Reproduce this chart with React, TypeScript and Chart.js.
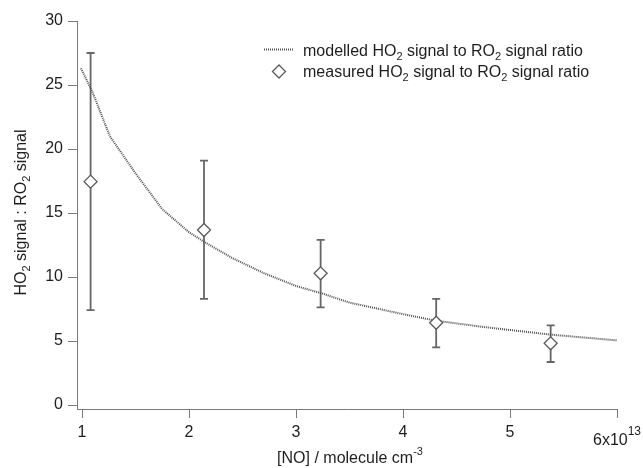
import React, { useEffect, useRef } from 'react';
import { Chart, registerables } from 'chart.js';

Chart.register(...registerables);

// ---- data ----
const NO_MEASURED = [1.08, 2.14, 3.23, 4.31, 5.38];
const RATIO_MEASURED = [17.45, 13.67, 10.29, 6.43, 4.82];
const ERR_HIGH = [27.5, 19.1, 12.9, 8.3, 6.23];
const ERR_LOW = [7.42, 8.3, 7.63, 4.5, 3.36];

const NO_MODEL = [0.99, 1.1, 1.26, 1.5, 1.75, 2.0, 2.15, 2.4, 2.7, 3.0, 3.25, 3.5, 4.0, 4.3, 4.75, 5.38, 6.0];
const RATIO_MODEL = [26.3, 24.4, 21.0, 18.1, 15.3, 13.5, 12.7, 11.5, 10.3, 9.3, 8.7, 8.0, 7.1, 6.6, 6.1, 5.5, 5.05];

const X_TICKS = [1, 2, 3, 4, 5, 6];
const Y_TICKS = [0, 5, 10, 15, 20, 25, 30];
const X_EXPONENT = '13';

const FONT = '"Liberation Sans", Arial, Helvetica, sans-serif';
const AXIS_COLOR = '#7a7a7a';
const TEXT_COLOR = '#1e1e1e';
const MARK_COLOR = '#5a5a5a';

type Seg = { t: string; size: number; dy: number };

function segWidth(ctx: CanvasRenderingContext2D, segs: Seg[]) {
  let w = 0;
  for (const s of segs) {
    ctx.font = `${s.size}px ${FONT}`;
    w += ctx.measureText(s.t).width;
  }
  return w;
}

function drawSegs(ctx: CanvasRenderingContext2D, segs: Seg[], x: number, y: number) {
  let cx = x;
  ctx.textBaseline = 'alphabetic';
  ctx.textAlign = 'left';
  for (const s of segs) {
    ctx.font = `${s.size}px ${FONT}`;
    ctx.fillText(s.t, cx, y + s.dy);
    cx += ctx.measureText(s.t).width;
  }
}

const N = (t: string): Seg => ({ t, size: 16, dy: 0 });
const SUB = (t: string): Seg => ({ t, size: 11, dy: 4 });
const SUP = (t: string): Seg => ({ t, size: 11, dy: -8 });

const LEGEND_MODEL: Seg[] = [N('modelled HO'), SUB('2'), N(' signal to RO'), SUB('2'), N(' signal ratio')];
const LEGEND_MEAS: Seg[] = [N('measured HO'), SUB('2'), N(' signal to RO'), SUB('2'), N(' signal ratio')];
const Y_TITLE: Seg[] = [N('HO'), SUB('2'), N(' signal : RO'), SUB('2'), N(' signal')];
const X_TITLE: Seg[] = [N('[NO] / molecule cm'), SUP('-3')];

function diamond(ctx: CanvasRenderingContext2D, x: number, y: number, r: number) {
  ctx.beginPath();
  ctx.moveTo(x, y - r);
  ctx.lineTo(x + r, y);
  ctx.lineTo(x, y + r);
  ctx.lineTo(x - r, y);
  ctx.closePath();
  ctx.fillStyle = '#ffffff';
  ctx.fill();
  ctx.lineWidth = 1.3;
  ctx.strokeStyle = MARK_COLOR;
  ctx.stroke();
}

const errorBarPlugin = {
  id: 'errorBars',
  beforeDatasetsDraw(chart: any) {
    const ctx: CanvasRenderingContext2D = chart.ctx;
    const xs = chart.scales.x;
    const ys = chart.scales.y;
    ctx.save();
    ctx.strokeStyle = '#666666';
    ctx.lineWidth = 1.8;
    NO_MEASURED.forEach((xv, i) => {
      const px = xs.getPixelForValue(xv);
      const hi = ys.getPixelForValue(ERR_HIGH[i]);
      const lo = ys.getPixelForValue(ERR_LOW[i]);
      ctx.beginPath();
      ctx.moveTo(px, hi);
      ctx.lineTo(px, lo);
      ctx.moveTo(px - 4, hi);
      ctx.lineTo(px + 4, hi);
      ctx.moveTo(px - 4, lo);
      ctx.lineTo(px + 4, lo);
      ctx.stroke();
    });
    ctx.restore();
  },
};

const textPlugin = {
  id: 'richText',
  afterDraw(chart: any) {
    const ctx: CanvasRenderingContext2D = chart.ctx;
    const xs = chart.scales.x;
    ctx.save();
    ctx.fillStyle = TEXT_COLOR;

    // last x tick label with exponent
    const p6 = xs.getPixelForValue(X_TICKS[X_TICKS.length - 1]);
    const lbl: Seg[] = [N(`${X_TICKS[X_TICKS.length - 1]}x10`), { t: X_EXPONENT, size: 12, dy: -10 }];
    const w6 = segWidth(ctx, lbl);
    drawSegs(ctx, lbl, p6 - w6 / 2, 445);

    // x title
    const wx = segWidth(ctx, X_TITLE);
    drawSegs(ctx, X_TITLE, 350 - wx / 2, 462.5);

    // y title (rotated)
    const wy = segWidth(ctx, Y_TITLE);
    ctx.save();
    ctx.translate(25.5, 212.5);
    ctx.rotate(-Math.PI / 2);
    drawSegs(ctx, Y_TITLE, -wy / 2, 0);
    ctx.restore();

    // legend
    ctx.save();
    ctx.strokeStyle = '#555555';
    ctx.lineWidth = 2;
    ctx.setLineDash([1, 1]);
    ctx.beginPath();
    ctx.moveTo(264, 49.5);
    ctx.lineTo(294, 49.5);
    ctx.stroke();
    ctx.restore();
    diamond(ctx, 279, 71.5, 6.5);
    ctx.fillStyle = TEXT_COLOR;
    drawSegs(ctx, LEGEND_MODEL, 303, 55.5);
    drawSegs(ctx, LEGEND_MEAS, 303, 76.5);

    ctx.restore();
  },
};

export default function App() {
  const ref = useRef<HTMLCanvasElement | null>(null);

  useEffect(() => {
    document.body.style.margin = '0';
    const canvas = ref.current;
    if (!canvas) return;

    const chart = new Chart(canvas, {
      type: 'scatter',
      data: {
        datasets: [
          {
            label: 'modelled',
            type: 'line',
            data: NO_MODEL.map((x, i) => ({ x, y: RATIO_MODEL[i] })),
            borderColor: '#505050',
            borderWidth: 2,
            borderDash: [1, 1],
            pointRadius: 0,
            fill: false,
            tension: 0,
            order: 2,
          } as any,
          {
            label: 'measured',
            data: NO_MEASURED.map((x, i) => ({ x, y: RATIO_MEASURED[i] })),
            pointStyle: 'rectRot',
            pointRadius: 6.5,
            pointBorderWidth: 1.3,
            pointBorderColor: MARK_COLOR,
            pointBackgroundColor: '#ffffff',
            showLine: false,
            order: 1,
          } as any,
        ],
      },
      options: {
        responsive: false,
        animation: false,
        devicePixelRatio: 1,
        layout: { padding: { top: 21, right: 26, left: 0, bottom: 0 } },
        plugins: {
          legend: { display: false },
          tooltip: { enabled: false },
          title: { display: false },
        },
        scales: {
          x: {
            type: 'linear',
            min: 0.953,
            max: 6,
            afterBuildTicks: (scale: any) => {
              scale.ticks = X_TICKS.map((v) => ({ value: v }));
            },
            afterFit: (scale: any) => {
              scale.height = 59;
            },
            ticks: {
              padding: 5,
              color: TEXT_COLOR,
              font: { family: FONT, size: 16 },
              maxRotation: 0,
              autoSkip: false,
              callback: (v: any) => (v === X_TICKS[X_TICKS.length - 1] ? '' : String(v)),
            },
            grid: {
              display: true,
              drawOnChartArea: false,
              drawTicks: true,
              tickLength: 9,
              color: AXIS_COLOR,
              lineWidth: 1,
            },
            border: { display: true, color: AXIS_COLOR, width: 1 },
          },
          y: {
            type: 'linear',
            min: -0.31,
            max: 30,
            afterBuildTicks: (scale: any) => {
              scale.ticks = Y_TICKS.map((v) => ({ value: v }));
            },
            afterFit: (scale: any) => {
              scale.width = 77;
            },
            ticks: {
              padding: 5,
              color: TEXT_COLOR,
              font: { family: FONT, size: 16 },
              autoSkip: false,
              callback: (v: any) => String(v),
            },
            grid: {
              display: true,
              drawOnChartArea: false,
              drawTicks: true,
              tickLength: 9,
              color: AXIS_COLOR,
              lineWidth: 1,
            },
            border: { display: true, color: AXIS_COLOR, width: 1 },
          },
        },
      } as any,
      plugins: [errorBarPlugin, textPlugin],
    });

    return () => {
      chart.destroy();
    };
  }, []);

  return (
    <div style={{ width: 643, height: 468, overflow: 'hidden', background: '#ffffff' }}>
      <canvas ref={ref} width={643} height={468} style={{ display: 'block', width: 643, height: 468 }} />
    </div>
  );
}
